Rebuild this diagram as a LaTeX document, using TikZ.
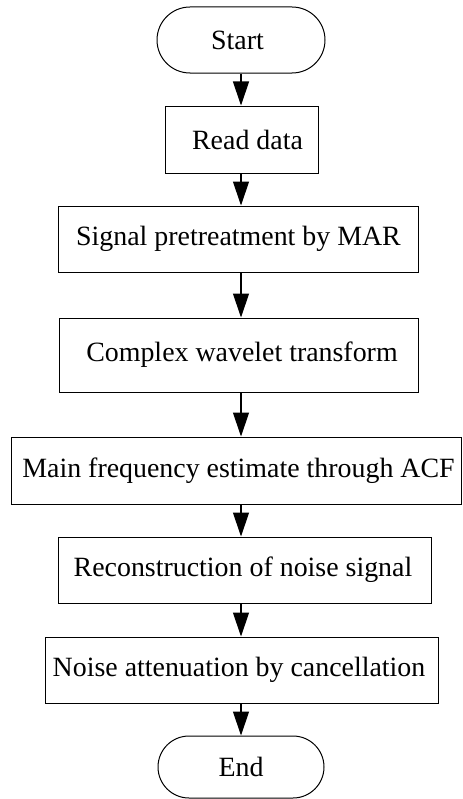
\documentclass[tikz,border=0pt]{standalone}
\usepackage{fontspec}
\setmainfont{Liberation Serif}
\usetikzlibrary{arrows.meta,shapes.misc}
\begin{document}
\begin{tikzpicture}[x=1bp,y=-1bp,
  box/.style={draw,line width=1bp,rectangle,inner sep=0pt,font=\fontsize{28}{34}\selectfont},
  term/.style={draw,line width=1bp,rounded rectangle,inner sep=0pt,font=\fontsize{28}{34}\selectfont},
  arr/.style={line width=1.2bp,-{Triangle[length=24bp,width=16bp]}}]
\useasboundingbox (0,0) rectangle (463,799);
\coordinate (ax) at (241,0);
\node[term,minimum width=168bp,minimum height=66bp] (start) at (241,40) {\hspace*{-7bp}Start};
\node[box,minimum width=153bp,minimum height=67bp] (read) at (241.5,139.5) {\hspace*{12bp}Read data};
\node[box,minimum width=359bp,minimum height=66bp] (sig) at (238.5,239) {Signal pretreatment by MAR};
\node[box,minimum width=358bp,minimum height=74bp] (cwt) at (239,355) {\hspace*{6bp}Complex wavelet transform};
\node[box,minimum width=449bp,minimum height=67bp] (mf) at (236.5,470.5) {\hspace*{4bp}Main frequency estimate through ACF};
\node[box,minimum width=372bp,minimum height=66bp] (rec) at (245,570) {\hspace*{-4bp}Reconstruction of noise signal};
\node[box,minimum width=392bp,minimum height=66bp] (noise) at (242,670) {\hspace*{-6bp}Noise attenuation by cancellation};
\node[term,minimum width=166bp,minimum height=62bp] (end) at (241,767) {End};
\draw[arr] (start.south -| ax) -- (read.north -| ax);
\draw[arr] (read.south -| ax) -- (sig.north -| ax);
\draw[arr] (sig.south -| ax) -- (cwt.north -| ax);
\draw[arr] (cwt.south -| ax) -- (mf.north -| ax);
\draw[arr] (mf.south -| ax) -- (rec.north -| ax);
\draw[arr] (rec.south -| ax) -- (noise.north -| ax);
\draw[arr] (noise.south -| ax) -- (end.north -| ax);
\end{tikzpicture}
\end{document}
